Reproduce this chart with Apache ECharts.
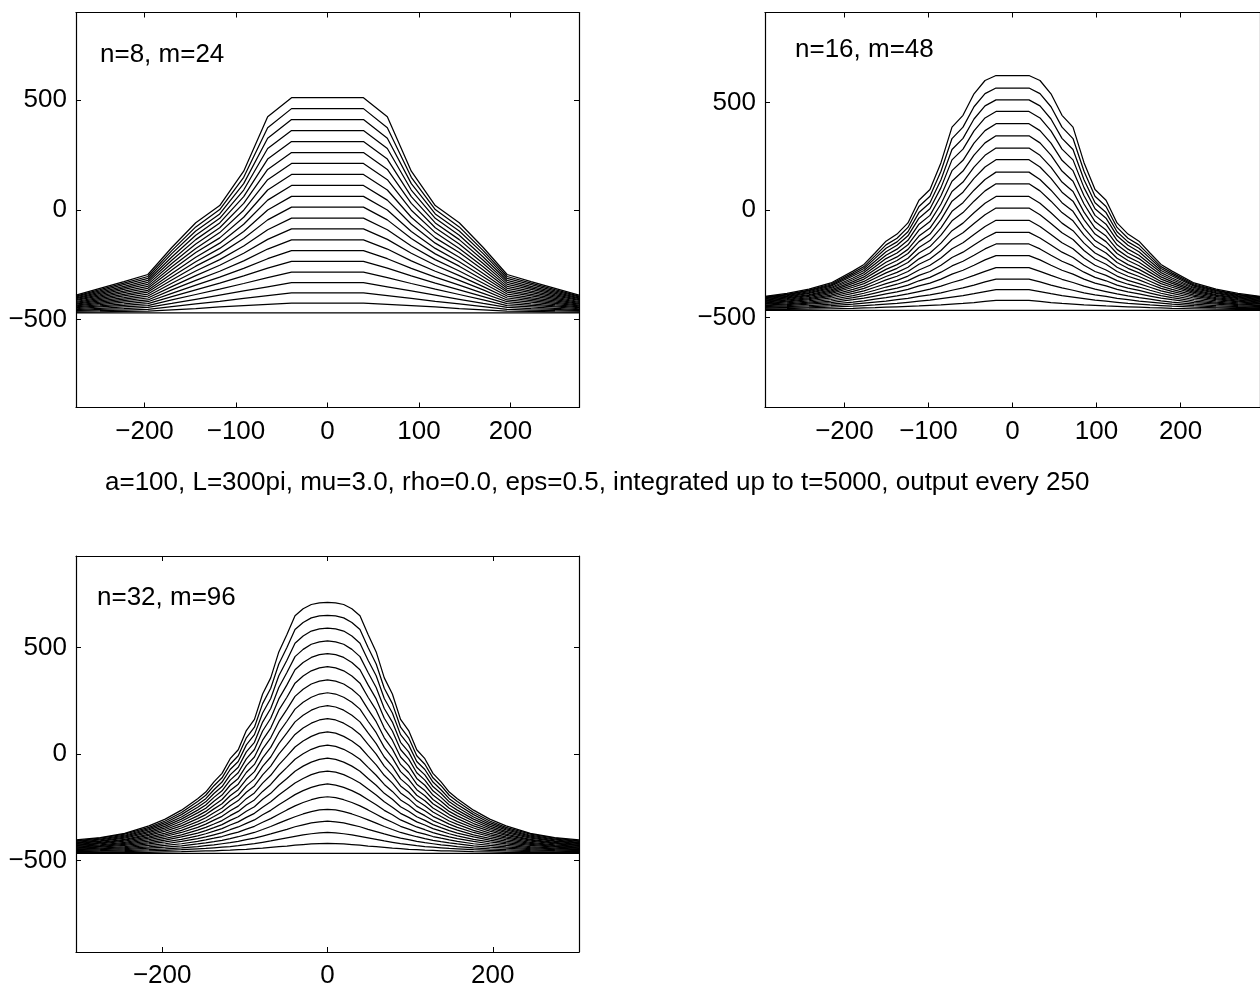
<!DOCTYPE html>
<html>
<head>
<meta charset="utf-8">
<script src="https://cdn.jsdelivr.net/npm/echarts@6/dist/echarts.min.js"></script>
<style>
  html, body { margin: 0; padding: 0; background: #fff; }
  #chart { width: 1260px; height: 992px; }
</style>
</head>
<body>
<div id="chart"></div>
<script>
// Grid positions (x) of the plotted output points for each resolution
const xN8 = [-274.9,-248.7,-222.5,-196.3,-170.2,-144.0,-117.8,-91.6,-65.4,-39.3,-13.1,13.1,39.3,65.4,91.6,117.8,144.0,170.2,196.3,222.5,248.7,274.9];
const xN16 = [-294.5,-268.3,-242.2,-216.0,-189.8,-176.7,-163.6,-150.5,-137.4,-124.4,-111.3,-98.2,-85.1,-72.0,-58.9,-45.8,-32.7,-19.6,-6.5,6.5,19.6,32.7,45.8,58.9,72.0,85.1,98.2,111.3,124.4,137.4,150.5,163.6,176.7,189.8,216.0,242.2,268.3,294.5];
const xN32 = [-304.3,-274.9,-245.4,-216.0,-196.3,-176.7,-157.1,-147.3,-137.4,-127.6,-117.8,-108.0,-98.2,-88.4,-78.5,-68.7,-58.9,-49.1,-39.3,-29.5,-19.6,-9.8,0,9.8,19.6,29.5,39.3,49.1,58.9,68.7,78.5,88.4,98.2,108.0,117.8,127.6,137.4,147.3,157.1,176.7,196.3,216.0,245.4,274.9,304.3];

// Tick labels
const xTicksWide = [-200, -100, 0, 100, 200];
const xTicksN32 = [-200, 0, 200];
const yTicks = [-500, 0, 500];

// n=8, m=24: profiles at t = 0, 250, ..., 5000
const n8_t0000 = [-469,-469,-469,-469,-469,-469,-469,-469,-469,-469,-469,-469,-469,-469,-469,-469,-469,-469,-469,-469,-469,-469];
const n8_t0250 = [-465,-464,-462,-461,-455,-449,-442,-436,-430,-424,-424,-424,-424,-430,-436,-442,-449,-455,-461,-462,-464,-465];
const n8_t0500 = [-461,-459,-456,-453,-440,-428,-416,-403,-390,-378,-378,-378,-378,-390,-403,-416,-428,-440,-453,-456,-459,-461];
const n8_t0750 = [-458,-453,-449,-444,-426,-407,-388,-369,-350,-331,-331,-331,-331,-350,-369,-388,-407,-426,-444,-449,-453,-458];
const n8_t1000 = [-454,-448,-442,-436,-410,-385,-361,-335,-308,-283,-283,-283,-283,-308,-335,-361,-385,-410,-436,-442,-448,-454];
const n8_t1250 = [-450,-442,-435,-427,-395,-364,-333,-300,-265,-234,-234,-234,-234,-265,-300,-333,-364,-395,-427,-435,-442,-450];
const n8_t1500 = [-445,-437,-428,-418,-380,-342,-306,-266,-222,-185,-185,-185,-185,-222,-266,-306,-342,-380,-418,-428,-437,-445];
const n8_t1750 = [-441,-431,-420,-410,-364,-321,-279,-232,-178,-136,-136,-136,-136,-178,-232,-279,-321,-364,-410,-420,-431,-441];
const n8_t2000 = [-437,-425,-413,-401,-349,-299,-252,-197,-134,-86,-86,-86,-86,-134,-197,-252,-299,-349,-401,-413,-425,-437];
const n8_t2250 = [-433,-420,-406,-392,-334,-278,-226,-164,-90,-37,-37,-37,-37,-90,-164,-226,-278,-334,-392,-406,-420,-433];
const n8_t2500 = [-429,-414,-399,-383,-319,-256,-200,-130,-45,13,13,13,13,-45,-130,-200,-256,-319,-383,-399,-414,-429];
const n8_t2750 = [-425,-408,-391,-374,-304,-236,-175,-98,0,62,62,62,62,0,-98,-175,-236,-304,-374,-391,-408,-425];
const n8_t3000 = [-421,-403,-384,-366,-289,-215,-151,-65,45,112,112,112,112,45,-65,-151,-215,-289,-366,-384,-403,-421];
const n8_t3250 = [-417,-397,-377,-357,-273,-194,-127,-33,91,162,162,162,162,91,-33,-127,-194,-273,-357,-377,-397,-417];
const n8_t3500 = [-412,-391,-370,-348,-259,-175,-103,-1,138,212,212,212,212,138,-1,-103,-175,-259,-348,-370,-391,-412];
const n8_t3750 = [-408,-386,-362,-339,-244,-155,-81,30,185,262,262,262,262,185,30,-81,-155,-244,-339,-362,-386,-408];
const n8_t4000 = [-404,-380,-355,-330,-229,-135,-59,61,232,312,312,312,312,232,61,-59,-135,-229,-330,-355,-380,-404];
const n8_t4250 = [-400,-374,-348,-321,-214,-115,-38,91,280,362,362,362,362,280,91,-38,-115,-214,-321,-348,-374,-400];
const n8_t4500 = [-396,-369,-340,-312,-199,-96,-18,120,327,412,412,412,412,327,120,-18,-96,-199,-312,-340,-369,-396];
const n8_t4750 = [-392,-363,-333,-303,-185,-77,2,149,375,462,462,462,462,375,149,2,-77,-185,-303,-333,-363,-392];
const n8_t5000 = [-388,-357,-326,-294,-171,-58,20,177,425,512,512,512,512,425,177,20,-58,-171,-294,-326,-357,-388];

// n=16, m=48
const n16_t0000 = [-466,-466,-466,-466,-466,-466,-466,-466,-466,-466,-466,-466,-466,-466,-466,-466,-466,-466,-466,-466,-466,-466,-466,-466,-466,-466,-466,-466,-466,-466,-466,-466,-466,-466,-466,-466,-466,-466];
const n16_t0250 = [-463,-462,-461,-459,-457,-455,-454,-452,-450,-448,-446,-443,-441,-437,-434,-430,-425,-420,-420,-420,-420,-425,-430,-434,-437,-441,-443,-446,-448,-450,-452,-454,-455,-457,-459,-461,-462,-463];
const n16_t0500 = [-459,-458,-455,-452,-447,-444,-441,-437,-434,-429,-424,-419,-412,-405,-398,-389,-379,-370,-370,-370,-370,-379,-389,-398,-405,-412,-419,-424,-429,-434,-437,-441,-444,-447,-452,-455,-458,-459];
const n16_t0750 = [-456,-453,-450,-445,-438,-433,-428,-423,-417,-411,-402,-394,-385,-373,-362,-349,-334,-321,-321,-321,-321,-334,-349,-362,-373,-385,-394,-402,-411,-417,-423,-428,-433,-438,-445,-450,-453,-456];
const n16_t1000 = [-453,-449,-444,-438,-428,-422,-414,-407,-399,-390,-379,-368,-354,-337,-322,-304,-285,-268,-268,-268,-268,-285,-304,-322,-337,-354,-368,-379,-390,-399,-407,-414,-422,-428,-438,-444,-449,-453];
const n16_t1250 = [-449,-444,-438,-430,-417,-410,-400,-390,-381,-369,-353,-340,-321,-298,-280,-257,-232,-212,-212,-212,-212,-232,-257,-280,-298,-321,-340,-353,-369,-381,-390,-400,-410,-417,-430,-438,-444,-449];
const n16_t1500 = [-445,-440,-433,-423,-407,-398,-386,-374,-363,-349,-329,-313,-289,-260,-238,-210,-181,-158,-158,-158,-158,-181,-210,-238,-260,-289,-313,-329,-349,-363,-374,-386,-398,-407,-423,-433,-440,-445];
const n16_t1750 = [-442,-436,-428,-416,-398,-387,-373,-358,-345,-328,-304,-286,-257,-221,-196,-163,-130,-104,-104,-104,-104,-130,-163,-196,-221,-257,-286,-304,-328,-345,-358,-373,-387,-398,-416,-428,-436,-442];
const n16_t2000 = [-438,-432,-422,-409,-388,-376,-359,-342,-327,-307,-279,-257,-223,-180,-152,-114,-77,-48,-48,-48,-48,-77,-114,-152,-180,-223,-257,-279,-307,-327,-342,-359,-376,-388,-409,-422,-432,-438];
const n16_t2250 = [-435,-427,-417,-402,-378,-364,-345,-325,-308,-286,-252,-228,-188,-137,-106,-63,-22,9,9,9,9,-22,-63,-106,-137,-188,-228,-252,-286,-308,-325,-345,-364,-378,-402,-417,-427,-435];
const n16_t2500 = [-432,-423,-412,-396,-369,-354,-331,-309,-290,-266,-227,-200,-154,-96,-61,-13,31,63,63,63,63,31,-13,-61,-96,-154,-200,-227,-266,-290,-309,-331,-354,-369,-396,-412,-423,-432];
const n16_t2750 = [-428,-419,-407,-389,-359,-342,-317,-292,-271,-244,-200,-170,-117,-50,-12,41,89,122,122,122,122,89,41,-12,-50,-117,-170,-200,-244,-271,-292,-317,-342,-359,-389,-407,-419,-428];
const n16_t3000 = [-425,-416,-402,-383,-350,-332,-304,-276,-254,-224,-174,-142,-83,-6,34,92,142,176,176,176,176,142,92,34,-6,-83,-142,-174,-224,-254,-276,-304,-332,-350,-383,-402,-416,-425];
const n16_t3250 = [-422,-412,-397,-377,-341,-321,-290,-259,-235,-202,-147,-112,-45,41,83,147,200,234,234,234,234,200,147,83,41,-45,-112,-147,-202,-235,-259,-290,-321,-341,-377,-397,-412,-422];
const n16_t3500 = [-419,-408,-393,-371,-333,-311,-277,-243,-218,-183,-121,-84,-10,86,130,199,254,288,288,288,288,254,199,130,86,-10,-84,-121,-183,-218,-243,-277,-311,-333,-371,-393,-408,-419];
const n16_t3750 = [-415,-405,-388,-365,-324,-301,-264,-226,-200,-162,-93,-54,28,134,181,255,312,345,345,345,345,312,255,181,134,28,-54,-93,-162,-200,-226,-264,-301,-324,-365,-388,-405,-415];
const n16_t4000 = [-412,-401,-384,-360,-316,-291,-251,-210,-182,-141,-66,-25,66,183,231,311,369,401,401,401,401,369,311,231,183,66,-25,-66,-141,-182,-210,-251,-291,-316,-360,-384,-401,-412];
const n16_t4250 = [-409,-398,-379,-354,-307,-281,-238,-194,-164,-120,-38,6,104,233,283,368,428,458,458,458,458,428,368,283,233,104,6,-38,-120,-164,-194,-238,-281,-307,-354,-379,-398,-409];
const n16_t4500 = [-406,-395,-375,-349,-299,-272,-225,-178,-148,-101,-12,34,141,281,333,423,484,512,512,512,512,484,423,333,281,141,34,-12,-101,-148,-178,-225,-272,-299,-349,-375,-395,-406];
const n16_t4750 = [-404,-392,-372,-344,-292,-263,-213,-162,-131,-81,16,64,180,332,385,480,541,567,567,567,567,541,480,385,332,180,64,16,-81,-131,-162,-213,-263,-292,-344,-372,-392,-404];
const n16_t5000 = [-401,-388,-368,-339,-284,-253,-200,-145,-112,-60,45,95,220,385,440,540,602,625,625,625,625,602,540,440,385,220,95,45,-60,-112,-145,-200,-253,-284,-339,-368,-388,-401];

// n=32, m=96
const n32_t0000 = [-467,-467,-467,-467,-467,-467,-467,-467,-467,-467,-467,-467,-467,-467,-467,-467,-467,-467,-467,-467,-467,-467,-467,-467,-467,-467,-467,-467,-467,-467,-467,-467,-467,-467,-467,-467,-467,-467,-467,-467,-467,-467,-467,-467,-467];
const n32_t0250 = [-465,-464,-463,-462,-460,-459,-457,-456,-455,-453,-452,-450,-448,-445,-443,-439,-436,-433,-429,-426,-423,-421,-420,-421,-423,-426,-429,-433,-436,-439,-443,-445,-448,-450,-452,-453,-455,-456,-457,-459,-460,-462,-463,-464,-465];
const n32_t0500 = [-462,-461,-459,-456,-453,-450,-446,-444,-441,-438,-435,-431,-426,-421,-415,-409,-401,-394,-387,-380,-375,-371,-369,-371,-375,-380,-387,-394,-401,-409,-415,-421,-426,-431,-435,-438,-441,-444,-446,-450,-453,-456,-459,-461,-462];
const n32_t0750 = [-459,-457,-454,-450,-446,-441,-435,-431,-427,-422,-417,-411,-403,-396,-386,-376,-365,-354,-342,-333,-324,-319,-316,-319,-324,-333,-342,-354,-365,-376,-386,-396,-403,-411,-417,-422,-427,-431,-435,-441,-446,-450,-454,-457,-459];
const n32_t1000 = [-457,-454,-450,-443,-438,-432,-423,-418,-412,-406,-398,-389,-379,-369,-355,-341,-325,-310,-295,-282,-271,-263,-260,-263,-271,-282,-295,-310,-325,-341,-355,-369,-379,-389,-398,-406,-412,-418,-423,-432,-438,-443,-450,-454,-457];
const n32_t1250 = [-454,-450,-445,-437,-430,-422,-411,-404,-396,-388,-377,-367,-353,-340,-321,-304,-283,-263,-244,-228,-215,-205,-201,-205,-215,-228,-244,-263,-283,-304,-321,-340,-353,-367,-377,-388,-396,-404,-411,-422,-430,-437,-445,-450,-454];
const n32_t1500 = [-450,-446,-440,-430,-422,-411,-398,-390,-380,-370,-356,-343,-326,-310,-286,-265,-239,-215,-191,-172,-157,-146,-141,-146,-157,-172,-191,-215,-239,-265,-286,-310,-326,-343,-356,-370,-380,-390,-398,-411,-422,-430,-440,-446,-450];
const n32_t1750 = [-447,-442,-435,-423,-413,-401,-385,-375,-363,-351,-334,-319,-298,-279,-250,-225,-193,-165,-136,-115,-97,-85,-80,-85,-97,-115,-136,-165,-193,-225,-250,-279,-298,-319,-334,-351,-363,-375,-385,-401,-413,-423,-435,-442,-447];
const n32_t2000 = [-444,-438,-430,-417,-405,-390,-372,-360,-346,-332,-312,-295,-269,-248,-213,-185,-147,-115,-81,-57,-38,-25,-19,-25,-38,-57,-81,-115,-147,-185,-213,-248,-269,-295,-312,-332,-346,-360,-372,-390,-405,-417,-430,-438,-444];
const n32_t2250 = [-441,-434,-425,-410,-397,-380,-358,-345,-329,-313,-290,-270,-240,-216,-176,-143,-100,-63,-25,1,22,36,42,36,22,1,-25,-63,-100,-143,-176,-216,-240,-270,-290,-313,-329,-345,-358,-380,-397,-410,-425,-434,-441];
const n32_t2500 = [-438,-431,-420,-403,-388,-369,-345,-330,-311,-293,-267,-245,-210,-183,-137,-100,-51,-10,33,61,83,98,104,98,83,61,33,-10,-51,-100,-137,-183,-210,-245,-267,-293,-311,-330,-345,-369,-388,-403,-420,-431,-438];
const n32_t2750 = [-434,-427,-415,-396,-380,-359,-331,-315,-294,-273,-243,-219,-180,-150,-98,-57,-1,45,92,122,145,160,166,160,145,122,92,45,-1,-57,-98,-150,-180,-219,-243,-273,-294,-315,-331,-359,-380,-396,-415,-427,-434];
const n32_t3000 = [-431,-423,-410,-390,-372,-348,-318,-300,-276,-254,-220,-194,-150,-117,-58,-14,49,99,151,182,206,221,227,221,206,182,151,99,49,-14,-58,-117,-150,-194,-220,-254,-276,-300,-318,-348,-372,-390,-410,-423,-431];
const n32_t3250 = [-428,-419,-405,-383,-363,-338,-304,-285,-258,-234,-196,-168,-119,-83,-18,31,100,154,211,243,267,282,288,282,267,243,211,154,100,31,-18,-83,-119,-168,-196,-234,-258,-285,-304,-338,-363,-383,-405,-419,-428];
const n32_t3500 = [-425,-415,-401,-377,-355,-327,-291,-270,-241,-214,-172,-142,-87,-49,23,76,152,210,271,304,329,343,349,343,329,304,271,210,152,76,23,-49,-87,-142,-172,-214,-241,-270,-291,-327,-355,-377,-401,-415,-425];
const n32_t3750 = [-421,-411,-396,-370,-347,-316,-277,-255,-222,-193,-147,-115,-55,-14,65,122,206,267,333,367,391,405,411,405,391,367,333,267,206,122,65,-14,-55,-115,-147,-193,-222,-255,-277,-316,-347,-370,-396,-411,-421];
const n32_t4000 = [-418,-408,-391,-364,-339,-306,-264,-240,-204,-173,-123,-88,-23,21,108,168,259,325,396,430,454,467,472,467,454,430,396,325,259,168,108,21,-23,-88,-123,-173,-204,-240,-264,-306,-339,-364,-391,-408,-418];
const n32_t4250 = [-415,-404,-386,-357,-331,-296,-250,-225,-186,-153,-98,-62,10,55,150,214,313,383,458,492,516,527,532,527,516,492,458,383,313,214,150,55,10,-62,-98,-153,-186,-225,-250,-296,-331,-357,-386,-404,-415];
const n32_t4500 = [-411,-400,-382,-351,-323,-285,-237,-210,-168,-132,-73,-35,43,91,193,261,368,441,521,555,578,588,592,588,578,555,521,441,368,261,193,91,43,-35,-73,-132,-168,-210,-237,-285,-323,-351,-382,-400,-411];
const n32_t4750 = [-408,-396,-377,-345,-315,-275,-223,-194,-149,-112,-48,-8,76,126,237,309,423,501,585,618,640,649,652,649,640,618,585,501,423,309,237,126,76,-8,-48,-112,-149,-194,-223,-275,-315,-345,-377,-396,-408];
const n32_t5000 = [-404,-393,-373,-338,-306,-264,-210,-179,-131,-91,-22,20,110,163,282,358,480,562,650,683,703,711,713,711,703,683,650,562,480,358,282,163,110,20,-22,-91,-131,-179,-210,-264,-306,-338,-373,-393,-404];

const runsN8 = [n8_t0000,n8_t0250,n8_t0500,n8_t0750,n8_t1000,n8_t1250,n8_t1500,n8_t1750,n8_t2000,n8_t2250,n8_t2500,n8_t2750,n8_t3000,n8_t3250,n8_t3500,n8_t3750,n8_t4000,n8_t4250,n8_t4500,n8_t4750,n8_t5000];
const runsN16 = [n16_t0000,n16_t0250,n16_t0500,n16_t0750,n16_t1000,n16_t1250,n16_t1500,n16_t1750,n16_t2000,n16_t2250,n16_t2500,n16_t2750,n16_t3000,n16_t3250,n16_t3500,n16_t3750,n16_t4000,n16_t4250,n16_t4500,n16_t4750,n16_t5000];
const runsN32 = [n32_t0000,n32_t0250,n32_t0500,n32_t0750,n32_t1000,n32_t1250,n32_t1500,n32_t1750,n32_t2000,n32_t2250,n32_t2500,n32_t2750,n32_t3000,n32_t3250,n32_t3500,n32_t3750,n32_t4000,n32_t4250,n32_t4500,n32_t4750,n32_t5000];

const FONT = '"Liberation Sans", Arial, Helvetica, sans-serif';
const FS = 26;
const minus = v => String(v).replace('-', '\u2212');

// Layout of the three axes boxes (the second one runs past the right edge of the page)
const panels = [
  { xs: xN8,  runs: runsN8,  box: { left: 76,  top: 12.5, width: 503, height: 395 }, xLim: 274.9, yLim: 900, xTicks: xTicksWide, title: 'n=8, m=24',  tx: 100, ty: 55,  rightTicks: true },
  { xs: xN16, runs: runsN16, box: { left: 765, top: 12.5, width: 503, height: 395 }, xLim: 294.5, yLim: 918, xTicks: xTicksWide, title: 'n=16, m=48', tx: 795, ty: 50,  rightTicks: false },
  { xs: xN32, runs: runsN32, box: { left: 76,  top: 556,  width: 503, height: 396 }, xLim: 304.3, yLim: 931, xTicks: xTicksN32,  title: 'n=32, m=96', tx: 97,  ty: 598, rightTicks: true }
];

const axisLine = { onZero: false, lineStyle: { color: '#000', width: 1.2 } };
const grids = [], xAxes = [], yAxes = [], series = [], graphics = [];

panels.forEach((p, i) => {
  grids.push(Object.assign({ containLabel: false }, p.box));
  ['bottom', 'top'].forEach(pos => {
    xAxes.push({
      gridIndex: i, type: 'value', position: pos, min: -p.xLim, max: p.xLim,
      axisLine: axisLine,
      axisTick: { show: true, inside: true, length: 5, customValues: p.xTicks, lineStyle: { color: '#000', width: 1 } },
      axisLabel: { show: pos === 'bottom', customValues: p.xTicks, formatter: minus, color: '#000', fontSize: FS, fontFamily: FONT, margin: 11 },
      splitLine: { show: false }
    });
  });
  ['left', 'right'].forEach(pos => {
    yAxes.push({
      gridIndex: i, type: 'value', position: pos, min: -p.yLim, max: p.yLim,
      axisLine: axisLine,
      axisTick: { show: pos === 'left' || p.rightTicks, inside: true, length: 5, customValues: yTicks, lineStyle: { color: '#000', width: 1 } },
      axisLabel: { show: pos === 'left', customValues: yTicks, formatter: minus, color: '#000', fontSize: FS, fontFamily: FONT, margin: 9 },
      splitLine: { show: false }
    });
  });
  p.runs.forEach(run => {
    series.push({
      type: 'line', xAxisIndex: 2 * i, yAxisIndex: 2 * i,
      data: p.xs.map((x, j) => [x, run[j]]),
      showSymbol: false, symbol: 'none', silent: true, clip: true,
      lineStyle: { color: '#000', width: 1.25 }
    });
  });
  graphics.push({
    type: 'text', x: p.tx, y: p.ty,
    style: { text: p.title, fill: '#000', fontSize: FS, fontFamily: FONT, align: 'left', verticalAlign: 'middle' }
  });
});

graphics.push({
  type: 'text', x: 105, y: 483,
  style: { text: 'a=100, L=300pi, mu=3.0, rho=0.0, eps=0.5, integrated up to t=5000, output every 250', fill: '#000', fontSize: FS, fontFamily: FONT, align: 'left', verticalAlign: 'middle' }
});

const chart = echarts.init(document.getElementById('chart'), null, { renderer: 'canvas' });
chart.setOption({
  animation: false,
  backgroundColor: '#fff',
  grid: grids,
  xAxis: xAxes,
  yAxis: yAxes,
  series: series,
  graphic: graphics
});
</script>
</body>
</html>
